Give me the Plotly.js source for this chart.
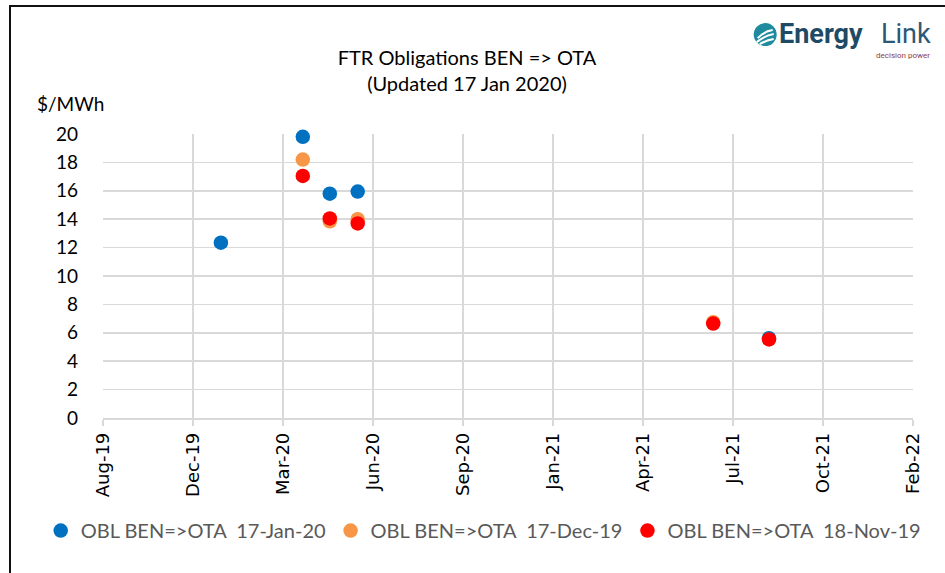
<!DOCTYPE html>
<html>
<head>
<meta charset="utf-8">
<script src="https://cdn.plot.ly/plotly-3.0.1.min.js"></script>
<style>
html,body{margin:0;padding:0;background:#fff;}
#wrap{position:relative;width:945px;height:573px;}
#chart{position:absolute;left:0;top:0;width:945px;height:573px;}
#frame{position:absolute;left:9px;top:5px;width:940px;height:575px;border-left:2px solid #111;border-top:2px solid #111;pointer-events:none;}
</style>
</head>
<body>
<div id="wrap"><div id="chart"></div><div id="frame"></div></div>
<script>
// ---- data ----
const seriesNames = ['OBL BEN=>OTA  17-Jan-20', 'OBL BEN=>OTA  17-Dec-19', 'OBL BEN=>OTA  18-Nov-19'];
const janDates  = ['2020-01-01', '2020-04-01', '2020-05-01', '2020-06-01', '2021-09-01'];
const janValues = [12.35, 19.8, 15.8, 15.95, 5.62];
const decDates  = ['2020-04-01', '2020-05-01', '2020-06-01', '2021-07-01'];
const decValues = [18.2, 13.85, 14.0, 6.75];
const novDates  = ['2020-04-01', '2020-05-01', '2020-06-01', '2021-07-01', '2021-09-01'];
const novValues = [17.05, 14.05, 13.7, 6.65, 5.53];
const yTicks = [0, 2, 4, 6, 8, 10, 12, 14, 16, 18, 20];
const titleLines = ['FTR Obligations BEN => OTA', '(Updated 17 Jan 2020)'];
const yUnit = '$/MWh';

// ---- layout helpers (plot area in pixels) ----
const L = 103.3, R = 913.3, T = 134, B = 418.3;
const px = x => (x - L) / (R - L);
const py = y => (B - y) / (B - T);

const colors = ['#0070C0', '#F79646', '#FF0000'];
function trace(x, y, i) {
  return {x: x, y: y, name: seriesNames[i], type: 'scatter', mode: 'markers',
    marker: {color: colors[i], size: 14.5, line: {width: 0}}, cliponaxis: false};
}
const data = [trace(janDates, janValues, 0), trace(decDates, decValues, 1), trace(novDates, novValues, 2)];

const grid = '#D9D9D9';
const layout = {
  width: 945, height: 573,
  margin: {l: L, r: 945 - R, t: T, b: 573 - B, pad: 0},
  paper_bgcolor: '#fff', plot_bgcolor: '#fff',
  font: {family: 'Lato, "Open Sans", sans-serif', color: '#000'},
  showlegend: true,
  title: {text: titleLines.join('<br>'), x: 467 / 945, xanchor: 'center', xref: 'container',
    y: 1 - 65 / 573, yanchor: 'top', yref: 'container',
    font: {family: 'Lato, sans-serif', size: 20, color: '#000'}},
  xaxis: {type: 'date', range: ['2019-08-23', '2022-02-08'], tick0: '2019-08-23', dtick: 100 * 86400000,
    tickformat: '%b-%y', tickangle: -90, showgrid: true, gridcolor: grid, gridwidth: 1.5,
    ticks: 'outside', ticklen: 6, tickcolor: grid, tickwidth: 1.5,
    showline: true, linecolor: grid, linewidth: 1.5, zeroline: false,
    tickfont: {family: '"DejaVu Sans", sans-serif', size: 18, color: '#000'}},
  yaxis: {range: [0, 20], tickvals: yTicks, showgrid: true, gridcolor: grid, gridwidth: 1.5,
    showline: false, zeroline: false, ticks: '', ticklabelstandoff: 24,
    tickfont: {family: 'Lato, sans-serif', size: 19, color: '#000'}},
  legend: {orientation: 'h', x: px(41), xanchor: 'left', y: py(531), yanchor: 'middle',
    font: {family: 'Lato, sans-serif', size: 20, color: '#595959'}, itemwidth: 30, tracegroupgap: 0},
  annotations: [
    {text: yUnit, xref: 'paper', yref: 'paper', x: px(35), y: py(103), xanchor: 'left', yanchor: 'middle',
      showarrow: false, font: {family: 'Lato, sans-serif', size: 19, color: '#000'}},
    {text: '<b>Energy</b>', xref: 'paper', yref: 'paper', x: px(777), y: py(34), xanchor: 'left', yanchor: 'middle',
      showarrow: false, font: {family: 'Roboto, sans-serif', size: 27, color: '#1F4A66'}},
    {text: 'Link', xref: 'paper', yref: 'paper', x: px(933), y: py(34), xanchor: 'right', yanchor: 'middle',
      showarrow: false, font: {family: 'Roboto, sans-serif', size: 27, color: '#2C5873'}},
    {text: 'decision power', xref: 'paper', yref: 'paper', x: px(932), y: py(55), xanchor: 'right', yanchor: 'middle',
      showarrow: false, font: {family: 'Roboto, sans-serif', size: 8, color: '#8E3B46'}}
  ],
  shapes: [
    {type: 'circle', xref: 'paper', yref: 'paper', x0: px(754), x1: px(777), y0: py(46), y1: py(23),
      fillcolor: '#1E8C9E', line: {width: 0}},
    {type: 'path', xref: 'paper', yref: 'paper',
      path: `M ${px(758)} ${py(38)} Q ${px(765)} ${py(31)} ${px(773)} ${py(30)}`, line: {color: '#fff', width: 2}},
    {type: 'path', xref: 'paper', yref: 'paper',
      path: `M ${px(757)} ${py(42)} Q ${px(766)} ${py(35)} ${px(774)} ${py(34)}`, line: {color: '#fff', width: 2}},
    {type: 'path', xref: 'paper', yref: 'paper',
      path: `M ${px(760)} ${py(44)} Q ${px(767)} ${py(40)} ${px(774)} ${py(39)}`, line: {color: '#fff', width: 2}}
  ]
};
Plotly.newPlot('chart', data, layout, {displayModeBar: false, staticPlot: true});
</script>
</body>
</html>
